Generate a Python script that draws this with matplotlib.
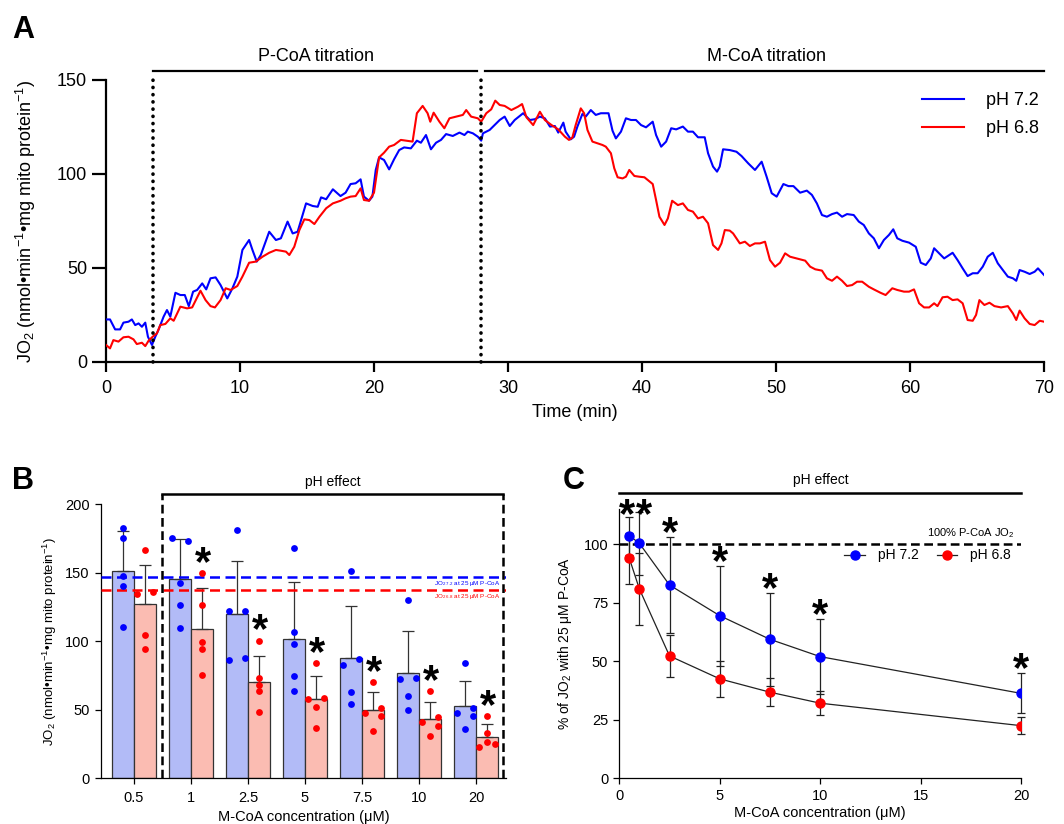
import matplotlib
matplotlib.use("Agg")
import matplotlib.pyplot as plt
import numpy as np

plt.rcParams['font.family'] = ['Liberation Sans', 'DejaVu Sans']
plt.rcParams['mathtext.fontset'] = 'custom'
plt.rcParams['mathtext.rm'] = 'Liberation Sans'
plt.rcParams['mathtext.it'] = 'Liberation Sans:italic'
plt.rcParams['mathtext.bf'] = 'Liberation Sans:bold'

# ---------------- Panel A data (time in min, JO2) ----------------
tA_blue = [0.0, 0.3, 0.68, 1.05, 1.3, 1.68, 1.93, 2.18, 2.43, 2.68, 2.93, 3.13, 3.43, 3.68, 3.93, 4.3, 4.55, 4.8,
           5.18, 5.55, 5.88, 6.18, 6.5, 6.8, 7.18, 7.48, 7.8, 8.18, 8.55, 9.05, 9.43, 9.8, 10.18, 10.68, 10.93,
           11.25, 11.55, 12.18, 12.68, 13.05, 13.55, 13.93, 14.3, 14.93, 15.43, 15.8, 16.05, 16.43, 16.93,
           17.5, 17.88, 18.25, 18.63, 19.0, 19.25, 19.63, 19.88, 20.13, 20.38, 20.75, 21.13, 21.5, 21.88, 22.25,
           22.75, 23.2, 23.5, 23.88, 24.25, 24.63, 25.0, 25.38, 25.88, 26.38, 26.75, 27.0, 27.38, 27.75, 28.0,
           28.13, 28.63, 29.0, 29.38, 29.75, 30.13, 30.5, 31.13, 31.63, 32.0, 32.38, 32.75, 33.13, 33.5, 33.75,
           34.13, 34.3, 34.68, 34.93, 35.18, 35.55, 35.8, 36.18, 36.55, 36.93, 37.5, 37.8, 38.05, 38.43, 38.8,
           39.18, 39.55, 39.93, 40.3, 40.8, 41.05, 41.43, 41.8, 42.18, 42.55, 43.05, 43.43, 43.8, 44.18, 44.68,
           44.93, 45.3, 45.6, 45.8, 46.05, 46.55, 47.05, 47.43, 47.93, 48.43, 48.93, 49.3, 49.68, 50.05, 50.55,
           50.93, 51.3, 51.8, 52.3, 52.68, 53.05, 53.43, 53.8, 54.18, 54.55, 54.93, 55.3, 55.8, 56.18, 56.55,
           56.93, 57.3, 57.68, 58.05, 58.43, 58.75, 59.05, 59.43, 59.93, 60.43, 60.8, 61.18, 61.55, 61.8, 62.18,
           62.55, 62.93, 63.18, 63.55, 63.93, 64.3, 64.68, 65.05, 65.43, 65.8, 66.18, 66.55, 66.93, 67.3, 67.68,
           67.93, 68.18, 68.55, 68.93, 69.3, 69.55, 70.0]
vA_blue = [22.5, 22.5, 17.2, 17.2, 20.8, 21.3, 22.5, 19.5, 20.4, 18.6, 20.8, 13.3, 8.9, 13.3, 17.2, 24, 27.5, 24,
           36.7, 35.5, 35.5, 29.6, 37.3, 38.2, 41.7, 38.5, 44.4, 44.9, 40.8, 33.7, 39, 45.3, 59.5, 64.8, 59.5,
           53.3, 56.8, 69.2, 64.8, 65.7, 74.6, 68.3, 69.2, 84.3, 82.9, 82.5, 87.5, 86.5, 91.8,
           88.2, 90, 94.6, 95, 97.1, 87.9, 85.7, 87.9, 102.1, 108.8, 107.4, 102.4, 107.8, 112.7, 114.1,
           113.6, 117.7, 116.6, 120.7, 113.1, 116.6, 118.1, 121.2, 120.2, 122, 120.7, 122.5, 121.6, 119.8, 117.7,
           121.6, 123.4, 126, 128.7, 130.5, 125.5, 128.7, 132.3, 128.7, 129.1, 130.5, 129.6, 125.2, 125.5, 122,
           127.3, 122.5, 118.4, 119.8, 125.2, 131.9, 130.5, 134, 131.4, 132.3, 132.3, 123, 118.9, 122.5, 129.6,
           128.7, 128.7, 126, 124.8, 127.8, 120.7, 114.5, 117.2, 124.3, 123.7, 125.2, 122.5, 122.5, 119.5, 119.5,
           111, 103.9, 101.2, 103.9, 113.1, 112.7, 111.8, 109.5, 105.6, 102.1, 106.5, 98.5, 89.7, 87.9, 94.6,
           93.5, 93.5, 90, 91.1, 88.8, 84.3, 78.1, 77.2, 78.6, 79.4, 77.2, 78.6, 78.1, 74.6, 72.8,
           68.3, 65.7, 60.4, 64.8, 67.5, 70.5, 65.7, 64.4, 63.4, 61.2, 52.7, 51.5, 55, 60.4, 57.7,
           55, 56.8, 58, 54.1, 49.7, 45.6, 47.1, 47.1, 50.6, 55.9, 58, 52.4, 48.8, 45.3, 44.4,
           43.1, 48.8, 47.9, 46.7, 47.9, 49.7, 46.2]

tA_red = [0.0, 0.3, 0.55, 0.93, 1.3, 1.68, 2.05, 2.3, 2.68, 2.93, 3.18, 3.48, 3.8, 4.05, 4.43, 4.8, 5.05, 5.55,
          6.05, 6.43, 6.68, 7.05, 7.43, 7.8, 8.13, 8.55, 8.93, 9.3, 9.8, 10.18, 10.68, 11.18, 11.68, 12.18,
          12.68, 13.05, 13.43, 13.68, 14.05, 14.43, 14.8, 15.18, 15.55, 15.93, 16.43, 16.93,
          17.5, 17.88, 18.25, 18.63, 19.0, 19.25, 19.63, 20.0, 20.38, 20.75, 21.13, 21.5, 22.0, 22.38, 22.88,
          23.2, 23.63, 24.0, 24.2, 24.45, 24.88, 25.25, 25.63, 26.13, 26.63, 26.88, 27.25, 27.75, 28.0, 28.38,
          28.75, 29.05, 29.38, 29.75, 30.25, 30.75, 31.05, 31.38, 31.88, 32.38, 32.75, 33.25, 33.75, 34.25,
          34.55, 34.8, 35.05, 35.43, 35.68, 35.93, 36.3, 36.68, 37.05, 37.3, 37.68, 37.93, 38.18, 38.55, 38.8,
          39.05, 39.43, 39.8, 40.18, 40.8, 41.05, 41.3, 41.68, 41.93, 42.25, 42.68, 43.05, 43.43, 43.8, 44.18,
          44.55, 44.93, 45.3, 45.68, 45.93, 46.18, 46.55, 46.8, 47.3, 47.68, 48.05, 48.43, 48.8, 49.18, 49.55,
          49.93, 50.3, 50.68, 51.05, 51.55, 51.8, 52.18, 52.55, 52.93, 53.43, 53.8, 54.18, 54.55, 54.93, 55.3,
          55.68, 56.05, 56.43, 56.93, 57.3, 57.8, 58.18, 58.68, 59.05, 59.55, 59.93, 60.3, 60.68, 61.05, 61.43,
          61.8, 62.05, 62.43, 62.8, 63.18, 63.55, 63.93, 64.3, 64.68, 64.93, 65.18, 65.55, 65.93, 66.3, 66.8,
          67.3, 67.68, 67.93, 68.18, 68.55, 68.93, 69.3, 69.68, 70.0]
vA_red = [8.9, 7.1, 11.5, 10.7, 13, 13.3, 11.9, 9.4, 10.1, 8.3, 11.2, 13.3, 15.1, 19.5, 20.1, 23.1, 21.8, 29.3,
          28.4, 28.9, 32.5, 37.8, 32.8, 29.6, 28.9, 32.8, 39.1, 38.2, 40.3, 45.3, 52.7, 53.3, 55.9, 58,
          59.5, 59.1, 58.6, 56.8, 61.2, 70.1, 75.8, 75.4, 73.3, 77.2, 81.7, 84.3,
          85.7, 87, 87.9, 88.2, 92.3, 86.1, 85.7, 90, 108.8, 111.3, 114.5, 115.4, 118.1, 117.7, 117.2,
          132.3, 136.2, 132.3, 127.8, 132.6, 127.8, 124.3, 129.6, 130.5, 131.4, 134, 130.5, 129.6, 127.8, 132.3,
          134.4, 139, 136.7, 136.2, 134, 135.8, 137.2, 130.1, 126, 133.1, 128.7, 126, 123.7, 119.8,
          118.1, 119.3, 126, 134.9, 132.3, 123.4, 117.2, 116.3, 115.4, 114.5, 111, 103, 98.2, 97.6, 98.5,
          102.1, 98.9, 98.5, 98.2, 94.6, 86.1, 77.2, 72.8, 76.3, 85.7, 83.4, 84.3, 80.8, 79.9, 76.3,
          77.2, 73.7, 62.1, 59.5, 63, 70.1, 69.8, 68.3, 63, 63.9, 61.6, 63, 63, 63.9, 54.1,
          50.6, 52.7, 57.7, 55.9, 55, 54.5, 53.8, 50.6, 49.2, 48.5, 44.4, 43.1, 45.3, 43.1, 40.3,
          40.8, 42.6, 42.6, 39.9, 38.5, 36.7, 35.5, 39.1, 38.2, 37.3, 37.3, 38.5, 31.1, 28.9, 28.9,
          31.1, 29.6, 34.3, 34.6, 32.8, 33.2, 31.1, 22.2, 21.8, 24.9, 32.8, 30.2, 31.4, 29.6, 28.9,
          29.6, 25.7, 22.2, 27.2, 23.1, 20.1, 19.5, 21.8, 21.3]

injection_times = [3.5, 28.0]

# ---------------- Panel B data ----------------
b_categories = ['0.5', '1', '2.5', '5', '7.5', '10', '20']
b_blue_mean = [151.0, 145.5, 120.0, 102.0, 87.5, 77.0, 53.0]
b_blue_sd = [29.5, 29.0, 38.6, 41.0, 38.3, 30.8, 18.3]
b_red_mean = [127.0, 109.0, 70.5, 58.0, 49.5, 43.5, 30.5]
b_red_sd = [28.5, 29.7, 18.8, 16.9, 13.3, 12.5, 9.2]
b_blue_pts = [[182.5, 175.7, 147.7, 140.4, 110.2],
              [175.7, 173.2, 142.8, 126.5, 109.5],
              [181.5, 122.0, 122.0, 86.4, 88.1],
              [168.1, 107.0, 98.3, 74.7, 64.0],
              [151.3, 86.9, 83.0, 62.8, 54.5],
              [130.0, 72.7, 73.0, 59.9, 49.9],
              [84.2, 51.6, 47.4, 45.7, 36.0]]
b_red_pts = [[166.4, 134.5, 136.0, 104.6, 94.4],
             [149.9, 126.3, 99.8, 94.2, 75.4],
             [100.5, 73.0, 67.9, 63.7, 48.7],
             [84.4, 57.9, 58.4, 52.3, 37.0],
             [70.3, 51.1, 47.9, 45.3, 34.8],
             [63.7, 41.1, 45.0, 38.2, 30.9],
             [45.3, 33.3, 22.6, 26.3, 24.8]]
b_ref_blue = 147.2
b_ref_red = 137.5
b_sig = [False, True, True, True, True, True, True]

# dot jitter (-1 left, 0 centre, 1 right) as drawn in the figure
b_blue_jit = [[0, 0, 0, 0, 0], [-1, 1, 0, 0, 0], [0, -1, 1, -1, 1], [0, 0, 0, 0, 0],
              [0, 1, -1, 0, 0], [0, -1, 1, 0, 0], [0, 1, -1, 1, 0]]
b_red_jit = [[0, -1, 1, 0, 0], [0, 0, 0, 0, 0], [0, 0, 0, 0, 0], [0, -1, 1, 0, 0],
             [0, 1, -1, 1, 0], [0, -1, 1, 1, 0], [0, 0, -1, 0, 1]]

# ---------------- Panel C data ----------------
c_conc = [0.5, 1, 2.5, 5, 7.5, 10, 20]
c_blue = [103.7, 100.4, 82.6, 69.5, 59.4, 52.0, 36.3]
c_blue_sd = [8.1, 13.6, 20.7, 21.4, 19.9, 15.9, 8.6]
c_red = [94.0, 80.9, 52.3, 42.5, 36.8, 32.1, 22.5]
c_red_sd = [11.0, 15.4, 9.1, 7.6, 5.9, 5.2, 3.7]

BLUE = '#0000ff'
RED = '#ff0000'
BAR_BLUE = '#b2bbf7'
BAR_RED = '#fbbcb2'

W, H = 1064, 824
fig = plt.figure(figsize=(W / 100, H / 100), dpi=100)


def frac(l, t, r, b):
    return [l / W, 1 - b / H, (r - l) / W, (b - t) / H]


STAR_FS = 30

# ================= Panel A =================
axA = fig.add_axes(frac(106, 80, 1044, 361.7))
axA.plot(tA_blue, vA_blue, color=BLUE, lw=1.5, label='pH 7.2', zorder=3)
axA.plot(tA_red, vA_red, color=RED, lw=1.5, label='pH 6.8', zorder=3)
for tx in injection_times:
    axA.plot([tx, tx], [0, 152], color='black', lw=2.6, ls=(0, (0.05, 1.95)),
             dash_capstyle='round', clip_on=False, zorder=4)
axA.set_xlim(0, 70)
axA.set_ylim(0, 150)
axA.set_xticks(range(0, 71, 10))
axA.set_yticks([0, 50, 100, 150])
for s in ['top', 'right']:
    axA.spines[s].set_visible(False)
for s in ['left', 'bottom']:
    axA.spines[s].set_linewidth(1.6)
axA.tick_params(axis='both', labelsize=13, width=1.6)
axA.tick_params(axis='y', length=10)
axA.tick_params(axis='x', length=7, pad=6)
axA.set_xlabel('Time (min)', fontsize=13, labelpad=5)
axA.set_ylabel(r'JO$_2$ (nmol•min$^{-1}$•mg mito protein$^{-1}$)', fontsize=13, labelpad=14)
axA.plot([3.5, 27.7], [154.8, 154.8], color='black', lw=1.6, clip_on=False)
axA.plot([28.3, 70], [154.8, 154.8], color='black', lw=1.6, clip_on=False)
axA.text(15.7, 158, 'P-CoA titration', ha='center', va='bottom', fontsize=13)
axA.text(49.3, 158, 'M-CoA titration', ha='center', va='bottom', fontsize=13)
leg = axA.legend(loc='upper left', bbox_to_anchor=(0.853, 1.015), frameon=False, fontsize=13,
                 handlelength=2.3, handletextpad=1.2, labelspacing=0.6)
fig.text(12 / W, 1 - 30 / H, 'A', fontsize=22, fontweight='bold', va='center', ha='left')

# ================= Panel B =================
axB = fig.add_axes(frac(100.7, 504.3, 506, 778.3))
x = np.arange(len(b_categories))
bw = 0.38
xb = x - bw / 2
xr = x + bw / 2
axB.bar(xb, b_blue_mean, width=bw, color=BAR_BLUE, edgecolor='#333333', lw=0.9, zorder=2)
axB.bar(xr, b_red_mean, width=bw, color=BAR_RED, edgecolor='#333333', lw=0.9, zorder=2)
axB.errorbar(xb, b_blue_mean, yerr=[np.zeros(len(x)), b_blue_sd], fmt='none', ecolor='#333333',
             elinewidth=0.9, capsize=4, capthick=0.9, zorder=3)
axB.errorbar(xr, b_red_mean, yerr=[np.zeros(len(x)), b_red_sd], fmt='none', ecolor='#333333',
             elinewidth=0.9, capsize=4, capthick=0.9, zorder=3)
jit = 0.145
for i in range(len(x)):
    axB.scatter(xb[i] + jit * np.array(b_blue_jit[i]), b_blue_pts[i], s=24, color=BLUE, zorder=4,
                linewidths=0)
    axB.scatter(xr[i] + jit * np.array(b_red_jit[i]), b_red_pts[i], s=24, color=RED, zorder=4,
                linewidths=0)
    if b_sig[i]:
        axB.text(xr[i] + 0.02, max(b_red_pts[i]) - 8, '*', fontsize=STAR_FS, fontweight='bold',
                 ha='center', va='bottom', zorder=5)
axB.set_xlim(-0.584, 6.526)
axB.set_ylim(0, 200)
axB.axhline(b_ref_blue, color=BLUE, lw=1.8, ls=(0, (4, 2.2)), zorder=3)
axB.axhline(b_ref_red, color=RED, lw=1.8, ls=(0, (4, 2.2)), zorder=3)
axB.text(6.42, b_ref_blue - 1.8, r'JO$_{2\ 7.2}$ at 25 μM P-CoA', color=BLUE, fontsize=4.5,
         ha='right', va='top', zorder=5)
axB.text(6.42, b_ref_red - 1.8, r'JO$_{2\ 6.8}$ at 25 μM P-CoA', color=RED, fontsize=4.5,
         ha='right', va='top', zorder=5)
# pH effect box
axB.plot([0.485, 0.485], [0, 207.8], color='black', lw=1.8, ls=(0, (3.5, 1.8)), clip_on=False, zorder=5)
axB.plot([6.47, 6.47], [0, 207.8], color='black', lw=1.8, ls=(0, (3.5, 1.8)), clip_on=False, zorder=5)
axB.plot([0.485, 6.47], [207.8, 207.8], color='black', lw=1.8, clip_on=False, zorder=5)
axB.text(3.48, 211, 'pH effect', ha='center', va='bottom', fontsize=10)
axB.set_xticks(x)
axB.set_xticklabels(b_categories)
axB.set_yticks([0, 50, 100, 150, 200])
for s in ['top', 'right']:
    axB.spines[s].set_visible(False)
for s in ['left', 'bottom']:
    axB.spines[s].set_linewidth(0.9)
axB.tick_params(axis='both', labelsize=10.5, width=0.9, length=4.5)
axB.tick_params(axis='x', pad=5)
axB.set_ylabel(r'JO$_2$ (nmol•min$^{-1}$•mg mito protein$^{-1}$)', fontsize=9.5, labelpad=4)
axB.set_xlabel('M-CoA concentration (μM)', fontsize=10.5, labelpad=3)
fig.text(12 / W, 1 - 481 / H, 'B', fontsize=22, fontweight='bold', va='center', ha='left')

# ================= Panel C =================
axC = fig.add_axes(frac(619.3, 509.2, 1021, 778.3))
axC.axhline(100, color='black', lw=1.8, ls=(0, (3.5, 1.8)), zorder=1)
axC.errorbar(c_conc, c_blue, yerr=c_blue_sd, fmt='none', ecolor='#222222', elinewidth=0.9,
             capsize=3, capthick=0.9, zorder=2, clip_on=False)
axC.errorbar(c_conc, c_red, yerr=c_red_sd, fmt='none', ecolor='#222222', elinewidth=0.9,
             capsize=3, capthick=0.9, zorder=2, clip_on=False)
axC.plot(c_conc, c_blue, color='#222222', lw=0.9, marker='o', markersize=6.5, markerfacecolor=BLUE,
         markeredgecolor=BLUE, label='pH 7.2', zorder=3)
axC.plot(c_conc, c_red, color='#222222', lw=0.9, marker='o', markersize=6.5, markerfacecolor=RED,
         markeredgecolor=RED, label='pH 6.8', zorder=3)
star_dx = [-0.1, 0.25, 0, 0, 0, 0, 0]
for i in range(len(c_conc)):
    top = c_blue[i] + c_blue_sd[i]
    axC.text(c_conc[i] + star_dx[i], min(top, 111.0) - 7.3, '*', fontsize=STAR_FS, fontweight='bold',
             ha='center', va='bottom', clip_on=False, zorder=5)
axC.set_xlim(0, 20)
axC.set_ylim(0, 115)
axC.set_xticks([0, 5, 10, 15, 20])
axC.set_yticks([0, 25, 50, 75, 100])
for s in ['top', 'right']:
    axC.spines[s].set_visible(False)
for s in ['left', 'bottom']:
    axC.spines[s].set_linewidth(0.9)
axC.tick_params(axis='both', labelsize=10.5, width=0.9, length=4.5)
axC.set_xlabel('M-CoA concentration (μM)', fontsize=10.5, labelpad=2)
axC.set_ylabel(r'% of JO$_2$ with 25 μM P-CoA', fontsize=10, labelpad=7)
axC.text(19.7, 102, r'100% P-CoA JO$_2$', fontsize=8, ha='right', va='bottom')
axC.plot([0, 20], [121.8, 121.8], color='black', lw=1.8, clip_on=False)
axC.text(10.05, 124.5, 'pH effect', ha='center', va='bottom', fontsize=10)
axC.legend(loc='upper right', bbox_to_anchor=(0.995, 0.885), ncol=2, frameon=False, fontsize=10,
           handlelength=1.5, handletextpad=0.9, columnspacing=1.3, borderaxespad=0.2)
fig.text(563 / W, 1 - 481 / H, 'C', fontsize=22, fontweight='bold', va='center', ha='left')

fig.savefig('out.png', dpi=100)
